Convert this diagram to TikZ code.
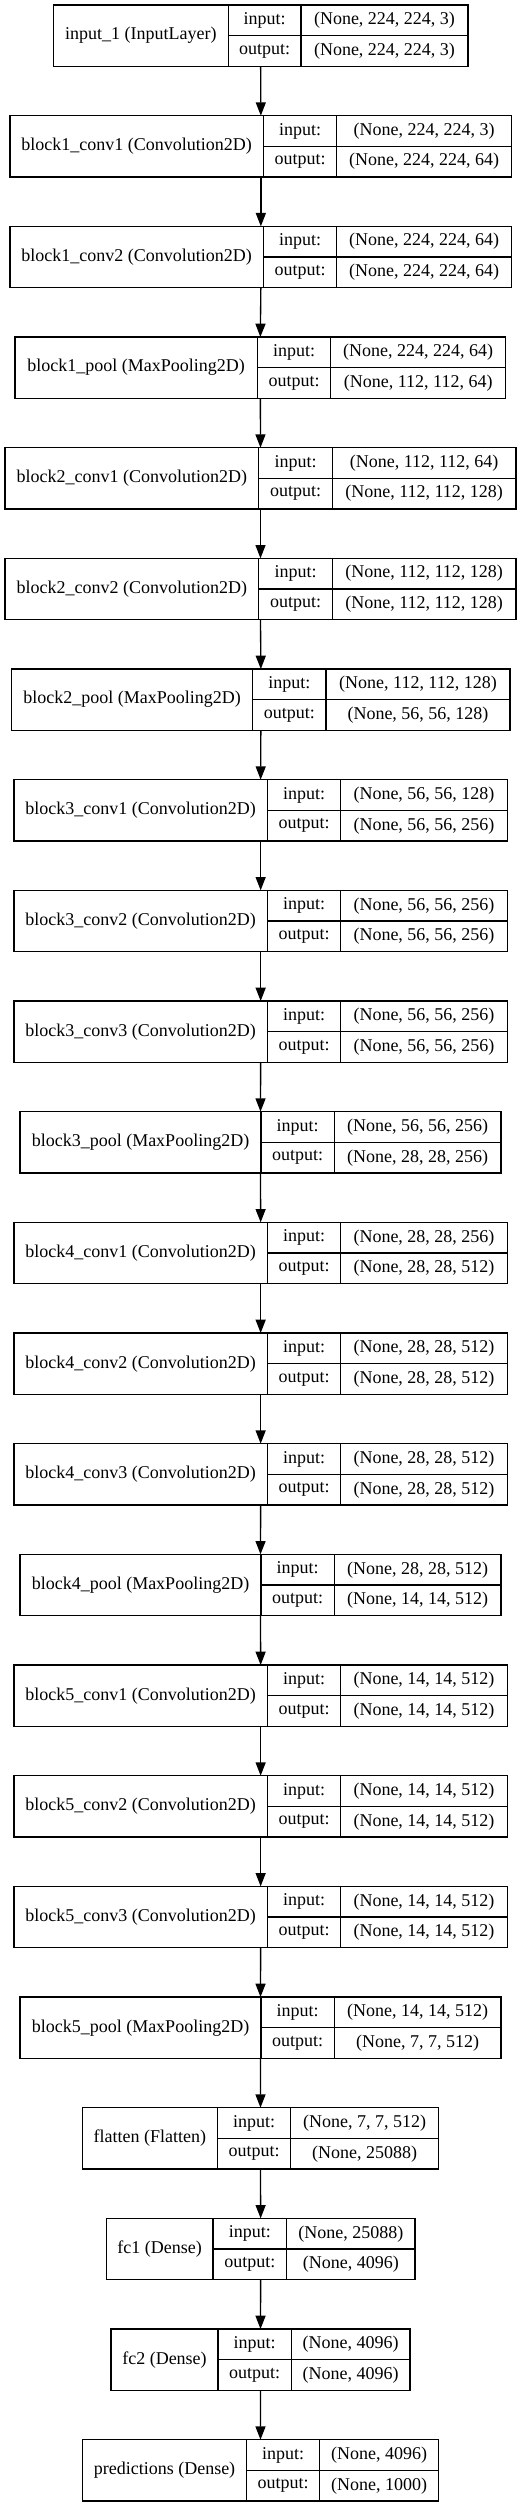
\documentclass[tikz,border=0pt]{standalone}
\usepackage{fontspec}
\setmainfont{Liberation Serif}
\usetikzlibrary{arrows.meta,fit}
\tikzset{
  layerbox/.style={draw=black, line width=1pt, inner sep=0pt, outer sep=0pt},
  divline/.style={draw=black, line width=1pt},
  txt/.style={inner sep=0pt, outer sep=0pt, font=\fontsize{13.5pt}{16pt}\selectfont},
  arr/.style={draw=black, line width=1pt, -{Triangle[length=10pt,width=7.5pt]}}
}
\newcommand\layer[9]{%
  \pgfmathsetmacro\ytop{5+110.667*#2}%
  \pgfmathsetmacro\ybot{\ytop+61.33}%
  \pgfmathsetmacro\ymid{\ytop+30.67}%
  \pgfmathsetmacro\yin{\ytop+15.33}%
  \pgfmathsetmacro\yout{\ytop+46}%
  \node[layerbox, fit={(#3,\ytop) (#6,\ybot)}] (#1) {};
  \draw[divline] (#4,\ytop) -- (#4,\ybot);
  \draw[divline] (#5,\ytop) -- (#5,\ybot);
  \draw[divline] (#4,\ymid) -- (#6,\ymid);
  \node[txt] (#1-lab) at ({(#3+#4)/2},\ymid) {#7};
  \node[txt] (#1-ik) at ({(#4+#5)/2},\yin) {input:};
  \node[txt] (#1-ok) at ({(#4+#5)/2},\yout) {output:};
  \node[txt] (#1-iv) at ({(#5+#6)/2},\yin) {#8};
  \node[txt] (#1-ov) at ({(#5+#6)/2},\yout) {#9};
}
\begin{document}
\begin{tikzpicture}[x=0.75pt,y=-0.75pt]
\fill[white] (0,0) rectangle (521,2508);
\useasboundingbox (0,0) rectangle (521,2508);
\layer{n0}{0}{53.3}{228.3}{301}{468}{input\_1 (InputLayer)}{(None, 224, 224, 3)}{(None, 224, 224, 3)}
\layer{n1}{1}{10}{263.3}{336.7}{511.7}{block1\_conv1 (Convolution2D)}{(None, 224, 224, 3)}{(None, 224, 224, 64)}
\layer{n2}{2}{10}{263.3}{336.7}{511.7}{block1\_conv2 (Convolution2D)}{(None, 224, 224, 64)}{(None, 224, 224, 64)}
\layer{n3}{3}{15}{257.3}{330.7}{505.7}{block1\_pool (MaxPooling2D)}{(None, 224, 224, 64)}{(None, 112, 112, 64)}
\layer{n4}{4}{5}{258.7}{332.3}{516}{block2\_conv1 (Convolution2D)}{(None, 112, 112, 64)}{(None, 112, 112, 128)}
\layer{n5}{5}{5}{258.7}{332.3}{516}{block2\_conv2 (Convolution2D)}{(None, 112, 112, 128)}{(None, 112, 112, 128)}
\layer{n6}{6}{11.7}{252.7}{326}{510}{block2\_pool (MaxPooling2D)}{(None, 112, 112, 128)}{(None, 56, 56, 128)}
\layer{n7}{7}{14}{267.3}{340.7}{507.3}{block3\_conv1 (Convolution2D)}{(None, 56, 56, 128)}{(None, 56, 56, 256)}
\layer{n8}{8}{14}{267.3}{340.7}{507.3}{block3\_conv2 (Convolution2D)}{(None, 56, 56, 256)}{(None, 56, 56, 256)}
\layer{n9}{9}{14}{267.3}{340.7}{507.3}{block3\_conv3 (Convolution2D)}{(None, 56, 56, 256)}{(None, 56, 56, 256)}
\layer{n10}{10}{20}{261}{334.3}{501}{block3\_pool (MaxPooling2D)}{(None, 56, 56, 256)}{(None, 28, 28, 256)}
\layer{n11}{11}{14}{267.3}{340.7}{507.3}{block4\_conv1 (Convolution2D)}{(None, 28, 28, 256)}{(None, 28, 28, 512)}
\layer{n12}{12}{14}{267.3}{340.7}{507.3}{block4\_conv2 (Convolution2D)}{(None, 28, 28, 512)}{(None, 28, 28, 512)}
\layer{n13}{13}{14}{267.3}{340.7}{507.3}{block4\_conv3 (Convolution2D)}{(None, 28, 28, 512)}{(None, 28, 28, 512)}
\layer{n14}{14}{20}{261}{334.3}{501}{block4\_pool (MaxPooling2D)}{(None, 28, 28, 512)}{(None, 14, 14, 512)}
\layer{n15}{15}{14}{267.3}{340.7}{507.3}{block5\_conv1 (Convolution2D)}{(None, 14, 14, 512)}{(None, 14, 14, 512)}
\layer{n16}{16}{14}{267.3}{340.7}{507.3}{block5\_conv2 (Convolution2D)}{(None, 14, 14, 512)}{(None, 14, 14, 512)}
\layer{n17}{17}{14}{267.3}{340.7}{507.3}{block5\_conv3 (Convolution2D)}{(None, 14, 14, 512)}{(None, 14, 14, 512)}
\layer{n18}{18}{20}{261}{334.3}{501}{block5\_pool (MaxPooling2D)}{(None, 14, 14, 512)}{(None, 7, 7, 512)}
\layer{n19}{19}{82.3}{217.3}{290.7}{438.7}{flatten (Flatten)}{(None, 7, 7, 512)}{(None, 25088)}
\layer{n20}{20}{106.3}{213}{286.7}{415}{fc1 (Dense)}{(None, 25088)}{(None, 4096)}
\layer{n21}{21}{111}{218}{291.3}{410}{fc2 (Dense)}{(None, 4096)}{(None, 4096)}
\layer{n22}{22}{82.3}{246.7}{319.7}{438.7}{predictions (Dense)}{(None, 4096)}{(None, 1000)}
\foreach \a/\b in {n0/n1,n1/n2,n2/n3,n3/n4,n4/n5,n5/n6,n6/n7,n7/n8,n8/n9,n9/n10,n10/n11,n11/n12,n12/n13,n13/n14,n14/n15,n15/n16,n16/n17,n17/n18,n18/n19,n19/n20,n20/n21,n21/n22}
  \draw[arr] (\a.south) -- (\b.north);
\end{tikzpicture}
\end{document}
